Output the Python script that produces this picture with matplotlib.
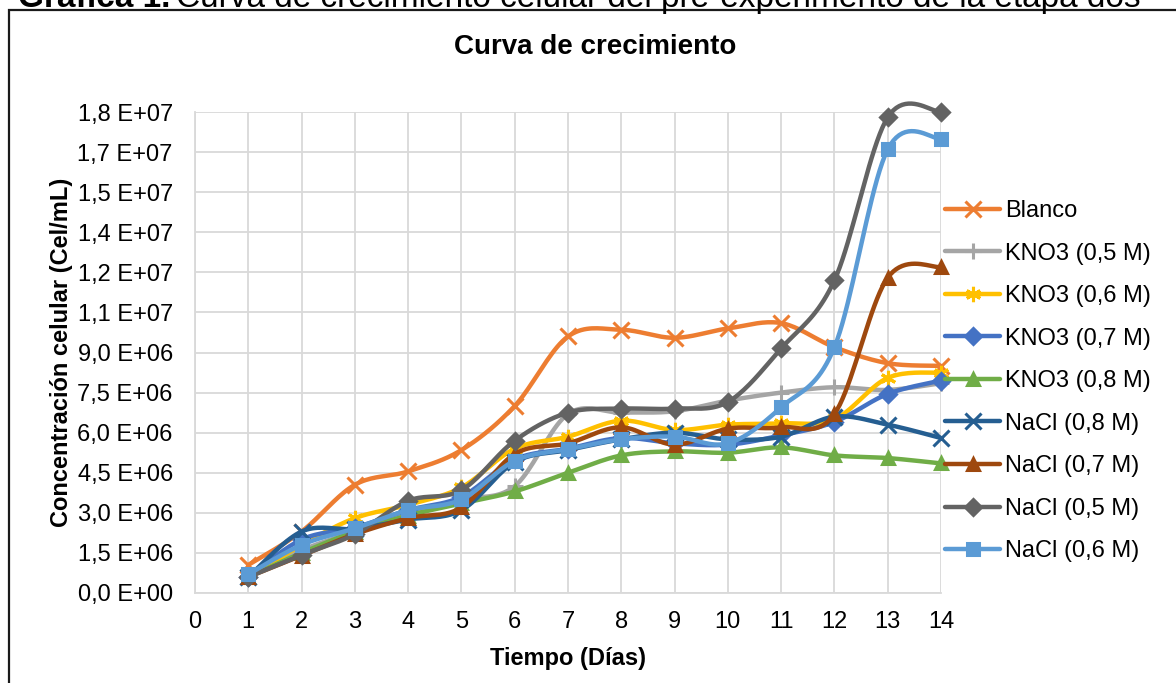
import numpy as np
import matplotlib
matplotlib.use("Agg")
import matplotlib.pyplot as plt
from matplotlib.patches import Rectangle

plt.rcParams['font.family'] = ['Liberation Sans', 'DejaVu Sans']

days = [1, 2, 3, 4, 5, 6, 7, 8, 9, 10, 11, 12, 13, 14]

blanco = [1.05e6, 2.3e6, 4.05e6, 4.55e6, 5.35e6, 7.0e6, 9.6e6, 9.85e6, 9.55e6, 9.9e6, 10.1e6, 9.2e6, 8.6e6, 8.5e6]
kno3_05 = [0.6e6, 1.6e6, 2.3e6, 3.0e6, 3.5e6, 4.0e6, 6.7e6, 6.75e6, 6.8e6, 7.2e6, 7.5e6, 7.7e6, 7.6e6, 7.85e6]
kno3_06 = [0.55e6, 1.8e6, 2.8e6, 3.3e6, 3.95e6, 5.4e6, 5.85e6, 6.45e6, 6.1e6, 6.3e6, 6.35e6, 6.5e6, 8.05e6, 8.25e6]
kno3_07 = [0.6e6, 2.0e6, 2.45e6, 3.1e6, 3.6e6, 5.0e6, 5.4e6, 5.8e6, 5.6e6, 5.55e6, 5.9e6, 6.4e6, 7.45e6, 7.95e6]
kno3_08 = [0.6e6, 1.5e6, 2.3e6, 2.9e6, 3.35e6, 3.8e6, 4.5e6, 5.15e6, 5.3e6, 5.25e6, 5.45e6, 5.15e6, 5.05e6, 4.85e6]
nacl_08 = [0.6e6, 2.3e6, 2.4e6, 2.75e6, 3.1e6, 4.9e6, 5.35e6, 5.75e6, 6.0e6, 5.75e6, 5.85e6, 6.6e6, 6.3e6, 5.8e6]
nacl_07 = [0.6e6, 1.4e6, 2.2e6, 2.8e6, 3.2e6, 5.2e6, 5.6e6, 6.2e6, 5.55e6, 6.15e6, 6.2e6, 6.7e6, 11.8e6, 12.2e6]
nacl_05 = [0.6e6, 1.42e6, 2.2e6, 3.45e6, 3.85e6, 5.7e6, 6.75e6, 6.9e6, 6.9e6, 7.15e6, 9.15e6, 11.7e6, 17.8e6, 18.0e6]
nacl_06 = [0.7e6, 1.8e6, 2.42e6, 3.1e6, 3.5e6, 4.95e6, 5.38e6, 5.75e6, 5.85e6, 5.6e6, 6.95e6, 9.2e6, 16.6e6, 17.0e6]

labels = ['Blanco', 'KNO3 (0,5 M)', 'KNO3 (0,6 M)', 'KNO3 (0,7 M)', 'KNO3 (0,8 M)',
          'NaCl (0,8 M)', 'NaCl (0,7 M)', 'NaCl (0,5 M)', 'NaCl (0,6 M)']
series = [blanco, kno3_05, kno3_06, kno3_07, kno3_08, nacl_08, nacl_07, nacl_05, nacl_06]
colors = ['#ED7D31', '#A5A5A5', '#FFC000', '#4472C4', '#70AD47',
          '#255E91', '#9E480E', '#636363', '#5B9BD5']
markers = ['x', '+', (6, 2, 0), 'D', '^', 'x', '^', 'D', 's']
msizes = [11, 11, 11, 8, 9, 11, 9, 8, 9]

y_ticks = [0, 1.5e6, 3.0e6, 4.5e6, 6.0e6, 7.5e6, 9.0e6, 10.5e6, 12.0e6, 13.5e6, 15.0e6, 16.5e6, 18.0e6]
y_tick_labels = ['0,0 E+00', '1,5 E+06', '3,0 E+06', '4,5 E+06', '6,0 E+06', '7,5 E+06', '9,0 E+06',
                 '1,1 E+07', '1,2 E+07', '1,4 E+07', '1,5 E+07', '1,7 E+07', '1,8 E+07']


def smooth(x, y, n=20):
    # Catmull-Rom style bezier, like Excel's smoothed lines
    x = np.asarray(x, float)
    y = np.asarray(y, float)
    px, py = [], []
    for i in range(len(x) - 1):
        i0 = max(i - 1, 0)
        i3 = min(i + 2, len(x) - 1)
        p0 = np.array([x[i], y[i]])
        p3 = np.array([x[i + 1], y[i + 1]])
        c1 = p0 + (np.array([x[i + 1], y[i + 1]]) - np.array([x[i0], y[i0]])) / 6
        c2 = p3 - (np.array([x[i3], y[i3]]) - np.array([x[i], y[i]])) / 6
        t = np.linspace(0, 1, n, endpoint=False)[:, None]
        pts = ((1 - t) ** 3) * p0 + 3 * ((1 - t) ** 2) * t * c1 + 3 * (1 - t) * t ** 2 * c2 + t ** 3 * p3
        px.extend(pts[:, 0])
        py.extend(pts[:, 1])
    px.append(x[-1])
    py.append(y[-1])
    return np.array(px), np.array(py)


W, H = 1176, 683
fig = plt.figure(figsize=(W / 100, H / 100), dpi=100)
ax = fig.add_axes([195 / W, 1 - 593 / H, (941 - 195) / W, (593 - 112) / H])

n = 20
for vals, lab, c, m, ms in zip(series, labels, colors, markers, msizes):
    sx, sy = smooth(days, vals, n)
    ax.plot(sx, sy, color=c, lw=3.2, label=lab, marker=m, markersize=ms,
            markevery=list(range(0, len(sx), n)), markeredgewidth=2.2,
            markerfacecolor=c, markeredgecolor=c, solid_capstyle='round', clip_on=False)

ax.set_xlim(0, 14)
ax.set_ylim(0, 18e6)
ax.set_xticks(range(0, 15))
ax.set_yticks(y_ticks)
ax.set_yticklabels(y_tick_labels)
ax.tick_params(length=0, labelsize=17, colors='black')
ax.tick_params(axis='y', pad=16)
ax.tick_params(axis='x', pad=13)
ax.grid(True, color='#d9d9d9', lw=1.3)
ax.set_axisbelow(True)
for s in ['top', 'right']:
    ax.spines[s].set_visible(False)
for s in ['left', 'bottom']:
    ax.spines[s].set_color('#d9d9d9')
    ax.spines[s].set_linewidth(1.3)

ax.set_xlabel('Tiempo (Días)', fontsize=17, fontweight='bold')
ax.set_ylabel('Concentración celular (Cel/mL)', fontsize=17, fontweight='bold')
ax.xaxis.set_label_coords(0.5, -0.113)
ax.yaxis.set_label_coords(-0.164, 0.5)

fig.text(595 / W, 1 - 47 / H, 'Curva de crecimiento', fontsize=20, fontweight='bold',
         ha='center', va='center')

# caption cut off at the top of the page, as in the source
fig.text(18 / W, 1 - 7 / H, 'Gráfica 1.', fontsize=24, fontweight='bold', ha='left', va='baseline')
fig.text(176 / W, 1 - 7 / H, 'Curva de crecimiento celular del pre-experimento de la etapa dos',
         fontsize=24, ha='left', va='baseline')

fig.patches.append(Rectangle((9 / W, -0.1), 1.2, 1 - 10 / H + 0.1, transform=fig.transFigure,
                             fill=False, edgecolor='#1a1a1a', lw=1.6))

ax.legend(loc='upper left', bbox_to_anchor=(945 / W, 1 - 200 / H), bbox_transform=fig.transFigure,
          frameon=False, fontsize=17, handlelength=2.35, handletextpad=0.2,
          labelspacing=0.87, borderpad=0, borderaxespad=0)

fig.savefig('out.png', dpi=100)
